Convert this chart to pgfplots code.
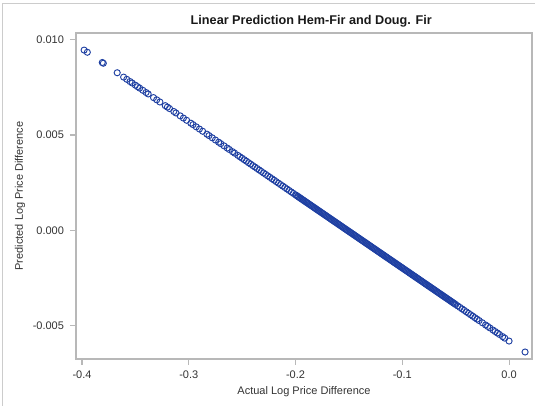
\documentclass[border=0pt]{standalone}
\usepackage{fontspec}
\setmainfont{Liberation Sans}
\usepackage{pgfplots}
\pgfplotsset{compat=1.18}
\definecolor{markblue}{HTML}{1F40A2}
\definecolor{framegray}{HTML}{CCCCCC}
\definecolor{axisgray}{HTML}{B8B8B8}
\definecolor{textgray}{HTML}{333333}

\begin{document}
\begin{tikzpicture}
\path[use as bounding box] (-57pt,-35.25pt) rectangle (344.25pt,269.25pt);
\draw[framegray, line width=0.75pt] (-54.75pt,-35.25pt) -- (-54.75pt,266.25pt) -- (344.25pt,266.25pt);
\begin{axis}[
  at={(0,0)}, anchor=south west,
  scale only axis,
  width=342pt, height=244.5pt,
  xmin=-0.4056, xmax=0.0215,
  ymin=-0.00673, ymax=0.01034,
  xtick={-0.4,-0.3,-0.2,-0.1,0},
  xticklabels={-0.4,-0.3,-0.2,-0.1,0.0},
  ytick={-0.005,0,0.005,0.010},
  yticklabels={-0.005,0.000,0.005,0.010},
  scaled y ticks=false,
  tick align=outside,
  major tick length=4.5pt,
  axis line style={axisgray, line width=0.8pt},
  tick style={axisgray, line width=0.8pt},
  xtick pos=bottom, ytick pos=left,
  ticklabel style={font=\fontsize{8.25}{10}\selectfont, text=textgray},
  xticklabel style={yshift=-1pt},
  yticklabel style={xshift=-1pt},
  xlabel={Actual Log Price Difference},
  label style={font=\fontsize{8.25}{10}\selectfont, text=textgray},
  xlabel style={at={(axis description cs:0.5,0)}, anchor=center, yshift=-24.75pt},
  clip=false,
]
\addplot[only marks, mark=o, mark size=2.3pt, mark options={markblue, line width=0.7pt}] coordinates {
(-0.398,0.009445) (-0.395,0.009331) (-0.381,0.008795) (-0.380,0.008756)
(-0.367,0.008259) (-0.361,0.008029) (-0.358,0.007914) (-0.355,0.007799)
(-0.353,0.007723) (-0.350,0.007608) (-0.348,0.007531) (-0.346,0.007455)
(-0.343,0.007340) (-0.340,0.007225) (-0.338,0.007149) (-0.333,0.006957)
(-0.330,0.006842) (-0.327,0.006728) (-0.322,0.006536) (-0.320,0.006460)
(-0.318,0.006383) (-0.314,0.006230) (-0.312,0.006153) (-0.308,0.006000)
(-0.305,0.005885) (-0.302,0.005771) (-0.298,0.005617) (-0.296,0.005541)
(-0.293,0.005426) (-0.290,0.005311) (-0.287,0.005196) (-0.283,0.005043)
(-0.281,0.004967) (-0.278,0.004852) (-0.275,0.004737) (-0.272,0.004622)
(-0.270,0.004546) (-0.267,0.004431) (-0.264,0.004316) (-0.262,0.004239)
(-0.259,0.004125) (-0.257,0.004048) (-0.254,0.003933) (-0.252,0.003857)
(-0.250,0.003780) (-0.248,0.003703) (-0.246,0.003627) (-0.244,0.003550)
(-0.242,0.003474) (-0.240,0.003397) (-0.238,0.003320) (-0.236,0.003244)
(-0.234,0.003167) (-0.232,0.003091) (-0.230,0.003014) (-0.228,0.002938)
(-0.226,0.002861) (-0.224,0.002785) (-0.222,0.002708) (-0.220,0.002632)
(-0.218,0.002555) (-0.216,0.002478) (-0.214,0.002402) (-0.212,0.002325)
(-0.210,0.002249) (-0.208,0.002172) (-0.206,0.002096) (-0.204,0.002019)
(-0.202,0.001943)
(-0.200,0.001866) (-0.199,0.001828) (-0.198,0.001789) (-0.197,0.001751)
(-0.196,0.001713) (-0.195,0.001675) (-0.194,0.001636) (-0.193,0.001598)
(-0.192,0.001560) (-0.191,0.001521) (-0.190,0.001483) (-0.189,0.001445)
(-0.188,0.001407) (-0.187,0.001368) (-0.186,0.001330) (-0.185,0.001292)
(-0.184,0.001253) (-0.183,0.001215) (-0.182,0.001177) (-0.181,0.001139)
(-0.180,0.001100) (-0.179,0.001062) (-0.178,0.001024) (-0.177,0.000986)
(-0.176,0.000947) (-0.175,0.000909) (-0.174,0.000871) (-0.173,0.000832)
(-0.172,0.000794) (-0.171,0.000756) (-0.170,0.000718) (-0.169,0.000679)
(-0.168,0.000641) (-0.167,0.000603) (-0.166,0.000564) (-0.165,0.000526)
(-0.164,0.000488) (-0.163,0.000450) (-0.162,0.000411) (-0.161,0.000373)
(-0.160,0.000335) (-0.159,0.000296) (-0.158,0.000258) (-0.157,0.000220)
(-0.156,0.000182) (-0.155,0.000143) (-0.154,0.000105) (-0.153,0.000067)
(-0.152,0.000029) (-0.151,-0.000010) (-0.150,-0.000048) (-0.149,-0.000086)
(-0.148,-0.000125) (-0.147,-0.000163) (-0.146,-0.000201) (-0.145,-0.000239)
(-0.144,-0.000278) (-0.143,-0.000316) (-0.142,-0.000354) (-0.141,-0.000393)
(-0.140,-0.000431) (-0.139,-0.000469) (-0.138,-0.000507) (-0.137,-0.000546)
(-0.136,-0.000584) (-0.135,-0.000622) (-0.134,-0.000660) (-0.133,-0.000699)
(-0.132,-0.000737) (-0.131,-0.000775) (-0.130,-0.000814) (-0.129,-0.000852)
(-0.128,-0.000890) (-0.127,-0.000928) (-0.126,-0.000967) (-0.125,-0.001005)
(-0.124,-0.001043) (-0.123,-0.001082) (-0.122,-0.001120) (-0.121,-0.001158)
(-0.120,-0.001196) (-0.119,-0.001235) (-0.118,-0.001273) (-0.117,-0.001311)
(-0.116,-0.001350) (-0.115,-0.001388) (-0.114,-0.001426) (-0.113,-0.001464)
(-0.112,-0.001503) (-0.111,-0.001541) (-0.110,-0.001579) (-0.109,-0.001617)
(-0.108,-0.001656) (-0.107,-0.001694) (-0.106,-0.001732) (-0.105,-0.001771)
(-0.104,-0.001809) (-0.103,-0.001847) (-0.102,-0.001885) (-0.101,-0.001924)
(-0.100,-0.001962) (-0.099,-0.002000) (-0.098,-0.002038) (-0.097,-0.002077)
(-0.096,-0.002115) (-0.095,-0.002153) (-0.094,-0.002191) (-0.093,-0.002230)
(-0.092,-0.002268) (-0.091,-0.002307) (-0.090,-0.002345) (-0.089,-0.002383)
(-0.088,-0.002421) (-0.087,-0.002460) (-0.086,-0.002498) (-0.085,-0.002536)
(-0.084,-0.002574) (-0.083,-0.002613) (-0.082,-0.002651) (-0.081,-0.002689)
(-0.080,-0.002728) (-0.079,-0.002766) (-0.078,-0.002804) (-0.077,-0.002842)
(-0.076,-0.002881) (-0.075,-0.002919) (-0.074,-0.002957) (-0.073,-0.002996)
(-0.072,-0.003034) (-0.071,-0.003072) (-0.070,-0.003110) (-0.069,-0.003149)
(-0.068,-0.003187) (-0.067,-0.003225) (-0.066,-0.003264) (-0.065,-0.003302)
(-0.064,-0.003340) (-0.063,-0.003378) (-0.062,-0.003417) (-0.061,-0.003455)
(-0.060,-0.003493) (-0.059,-0.003532) (-0.058,-0.003570) (-0.057,-0.003608)
(-0.056,-0.003646) (-0.055,-0.003685) (-0.054,-0.003723) (-0.053,-0.003761)
(-0.052,-0.003800) (-0.051,-0.003838) (-0.050,-0.003876) (-0.048,-0.003953)
(-0.046,-0.004029) (-0.044,-0.004106) (-0.042,-0.004183) (-0.040,-0.004259)
(-0.038,-0.004336) (-0.036,-0.004412) (-0.034,-0.004489) (-0.032,-0.004566)
(-0.030,-0.004642) (-0.028,-0.004718) (-0.025,-0.004833) (-0.022,-0.004948)
(-0.020,-0.005024) (-0.018,-0.005101) (-0.015,-0.005216) (-0.013,-0.005292)
(-0.011,-0.005369) (-0.009,-0.005445) (-0.006,-0.005560) (-0.004,-0.005637)
(0.000,-0.005790) (0.015,-0.006364)
};
\end{axis}
\node[anchor=base west, font=\fontsize{9.5}{11}\selectfont\bfseries, text=black!90] at (82.5pt,250.5pt) {Linear Prediction Hem-Fir and Doug. Fir};
\node[rotate=90, anchor=center, font=\fontsize{8.25}{10}\selectfont, text=textgray] at (-42pt,122.25pt) {Predicted Log Price Difference};
\end{tikzpicture}
\end{document}
